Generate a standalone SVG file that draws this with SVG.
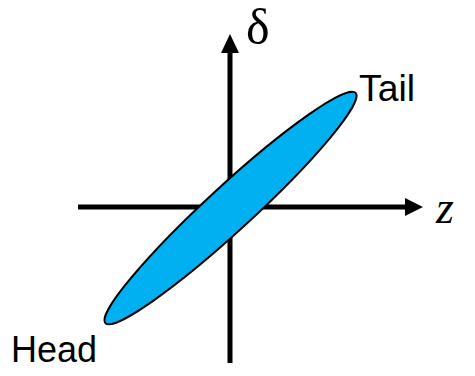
<svg xmlns="http://www.w3.org/2000/svg" width="475" height="376" viewBox="0 0 475 376">
<style>
.axis{stroke:#000;stroke-width:5;fill:none}
.lbl{font-family:"Liberation Sans",Arial,sans-serif;font-size:37px;fill:#000}
.math{font-family:"Liberation Serif","Times New Roman",serif;fill:#000}
</style>
<rect width="475" height="376" fill="#fff"/>
<g id="connectors">
<line class="axis" x1="78" y1="207" x2="407" y2="207"/>
<polygon points="405,198 423,207 405,216" fill="#000"/>
<line class="axis" x1="230" y1="363" x2="230" y2="50"/>
<polygon points="221,53 230,34 239,53" fill="#000"/>
</g>
<g id="ellipse">
<ellipse cx="230.5" cy="208" rx="170" ry="22.5" transform="rotate(-42.6 230.5 208)" fill="#00B0F0" stroke="#000" stroke-width="2"/>
</g>
<g id="delta"><text class="math" x="246" y="44" font-size="50">δ</text></g>
<g id="z"><text class="math" x="436" y="223" font-size="46" font-style="italic">z</text></g>
<g id="tail"><text class="lbl" x="359" y="101" textLength="56" lengthAdjust="spacingAndGlyphs">Tail</text></g>
<g id="head"><text class="lbl" x="11" y="362" textLength="86" lengthAdjust="spacingAndGlyphs">Head</text></g>
</svg>
